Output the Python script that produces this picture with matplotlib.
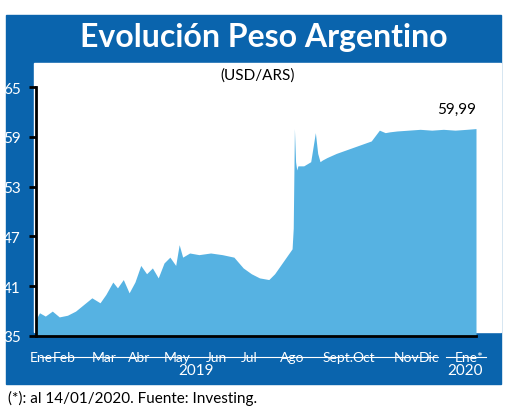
import matplotlib
matplotlib.use("Agg")
import matplotlib.pyplot as plt
from matplotlib.patches import Rectangle

# day index from 1 Jan 2019
days = [0, 3, 8, 14, 20, 27, 34, 41, 48, 55, 60, 66, 70, 75, 80, 85, 90, 95, 100, 105, 110, 115,
        120, 123, 126, 132, 140, 150, 160, 170, 178, 185, 192, 200, 205, 210, 215, 220,
        221, 222, 223, 224, 225, 230, 236, 240, 242, 244, 246, 250, 258, 268, 278, 288, 295, 300,
        304, 310, 320, 330, 340, 350, 360, 370, 378]
values = [37.0, 37.8, 37.4, 38.0, 37.3, 37.5, 38.0, 38.8, 39.6, 39.0, 40.0, 41.5, 40.8, 41.8, 40.2, 41.5,
          43.5, 42.5, 43.2, 42.0, 43.8, 44.5, 43.5, 46.0, 44.5, 45.0, 44.8, 45.0, 44.8, 44.5, 43.2, 42.5,
          42.0, 41.8, 42.5, 43.5, 44.5, 45.5, 48.0, 60.0, 56.0, 55.0, 55.5, 55.5, 56.0, 59.5, 57.0, 56.0,
          56.2, 56.5, 57.0, 57.5, 58.0, 58.5, 59.8, 59.5, 59.6, 59.7, 59.8, 59.9, 59.8, 59.9, 59.8, 59.9, 59.99]
yticks = [35, 41, 47, 53, 59, 65]
month_labels = ["Ene", "Feb", "Mar", "Abr", "May", "Jun", "Jul", "Ago", "Sept.", "Oct", "Nov", "Dic", "Ene*"]
month_pos = [-5, 14, 48, 79, 110, 146, 176, 210, 246, 272, 307, 329, 360]

BLUE = "#0a64ad"
FILL = "#56b2e2"

fig = plt.figure(figsize=(5.2, 4.1), dpi=100)
W, H = 520, 410
def fx(px): return px / W
def fy(py): return 1 - py / H

fig.patches.append(Rectangle((fx(6), fy(385)), fx(495), (385 - 16) / H, transform=fig.transFigure,
                             color=BLUE, zorder=-2))
fig.patches.append(Rectangle((fx(34), fy(333)), fx(467), (333 - 64) / H, transform=fig.transFigure,
                             color="white", zorder=-1))
fig.text(fx(264), fy(38), "Evolución Peso Argentino", color="white", fontsize=23, fontweight="bold",
         ha="center", va="center", family="Lato")
fig.text(fx(258), fy(76), "(USD/ARS)", fontsize=11, ha="center", va="center", family="Lato")

ax = fig.add_axes([fx(36), fy(337), fx(476 - 36), (337 - 88) / H])
ax.set_zorder(3)
ax.set_facecolor("none")
ax.fill_between(days, values, 35, color=FILL, lw=0)
ax.set_xlim(0, 378)
ax.set_ylim(35, 65)
ax.set_yticks(yticks)
ax.set_yticklabels([str(t) for t in yticks], fontsize=11, family="Lato", color="white")
for s in ["top", "right"]:
    ax.spines[s].set_visible(False)
ax.spines["left"].set_linewidth(2)
ax.spines["bottom"].set_linewidth(2)
ax.tick_params(axis="y", length=5, width=2, pad=6)
ax.set_xticks([])
ax.text(378, 61.5, "59,99", fontsize=11, ha="right", va="bottom", family="Lato")

for lab, p in zip(month_labels, month_pos):
    ax.text(p, 33.2, lab, ha="left", va="top", fontsize=10, color="white", family="Lato", clip_on=False)
fig.add_artist(plt.Line2D([fx(40), fx(438)], [fy(358), fy(358)], color="white", lw=0.8))
fig.add_artist(plt.Line2D([fx(446), fx(486)], [fy(358), fy(358)], color="white", lw=0.8))
fig.text(fx(196), fy(371), "2019", color="white", fontsize=11, ha="center", va="center", family="Lato")
fig.text(fx(465), fy(371), "2020", color="white", fontsize=11, ha="center", va="center", family="Lato")
fig.text(fx(8), fy(398), "(*): al 14/01/2020. Fuente: Investing.", fontsize=11, ha="left", va="center",
         family="Lato")

fig.savefig("out.png", dpi=100)
